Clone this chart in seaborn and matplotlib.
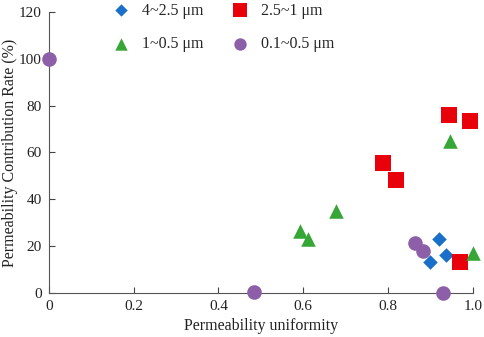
import pandas as pd
import matplotlib
matplotlib.use("Agg")
import matplotlib.pyplot as plt
import seaborn as sns

# pore-throat size groups
groups = ["4~2.5 μm", "2.5~1 μm", "1~0.5 μm", "0.1~0.5 μm"]

# permeability uniformity (x) and contribution rate (y) per group
x_4_25 = [0.92, 0.936, 0.90]
y_4_25 = [23.0, 16.3, 13.3]

x_25_1 = [0.943, 0.993, 0.788, 0.818, 0.969]
y_25_1 = [76.0, 73.4, 55.5, 48.3, 13.3]

x_1_05 = [0.946, 1.0, 0.592, 0.611, 0.677]
y_1_05 = [65.0, 17.2, 26.3, 23.0, 34.8]

x_01_05 = [0.0, 0.484, 0.93, 0.863, 0.882]
y_01_05 = [100.0, 0.5, 0.0, 21.4, 18.0]

xs = [x_4_25, x_25_1, x_1_05, x_01_05]
ys = [y_4_25, y_25_1, y_1_05, y_01_05]

df = pd.concat(
    [pd.DataFrame({"x": a, "y": b, "group": g}) for g, a, b in zip(groups, xs, ys)],
    ignore_index=True,
)

colors = ["#1a6fc8", "#e8000b", "#36a636", "#8c5fa8"]
markers = ["D", "s", "^", "o"]
sizes = [55, 140, 110, 110]

sns.set_style("ticks")
plt.rcParams["font.family"] = ["Liberation Serif", "DejaVu Serif"]

fig = plt.figure(figsize=(4.84, 3.37), dpi=100)
ax = fig.add_axes([0.101, 0.131, 0.876, 0.833])

for g, c, m, s in zip(groups, colors, markers, sizes):
    sub = df[df["group"] == g]
    sns.scatterplot(data=sub, x="x", y="y", color=c, marker=m, s=s,
                    linewidth=0, label=g, ax=ax, clip_on=False, zorder=3)

ax.set_xlim(0, 1.0)
ax.set_ylim(0, 120)
ax.set_xticks([0, 0.2, 0.4, 0.6, 0.8, 1.0])
ax.set_xticklabels(["0", "0.2", "0.4", "0.6", "0.8", "1.0"])
ax.set_yticks([0, 20, 40, 60, 80, 100, 120])
ax.tick_params(direction="in", labelsize=11, colors="#444444", labelcolor="#222222",
               length=4, pad=5)
for sp in ["top", "right"]:
    ax.spines[sp].set_visible(False)
for sp in ["left", "bottom"]:
    ax.spines[sp].set_color("#555555")

ax.set_xlabel("Permeability uniformity", fontsize=11.5, color="#222222")
ax.set_ylabel("Permeability Contribution Rate (%)", fontsize=11.5, color="#222222",
              labelpad=1)

# legend filled column-wise: reorder so rows read blue/red, green/purple
handles, labels = ax.get_legend_handles_labels()
order = [0, 2, 1, 3]
ax.legend([handles[i] for i in order], [labels[i] for i in order],
          ncol=2, frameon=False, fontsize=11.5, loc="upper left",
          bbox_to_anchor=(0.099, 1.085), columnspacing=1.3, handletextpad=0.3,
          labelspacing=1.1, markerscale=0.85)

fig.savefig("out.png", dpi=100)
